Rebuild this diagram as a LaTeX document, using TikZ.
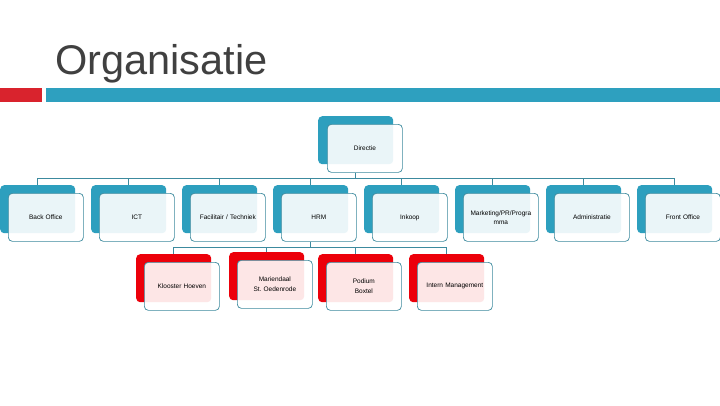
\documentclass[tikz,border=0pt]{standalone}
\usepackage{fontspec}
\setmainfont{Liberation Sans}
\definecolor{tblue}{RGB}{45,159,190}
\definecolor{tbar}{RGB}{46,160,191}
\definecolor{tredbar}{RGB}{217,35,45}
\definecolor{tred}{RGB}{236,0,10}
\definecolor{tline}{RGB}{60,138,158}
\definecolor{ttitle}{RGB}{64,64,64}
\begin{document}
\begin{tikzpicture}[x=1pt,y=-1pt,
  backbox/.style={rounded corners=4pt, minimum width=75pt, minimum height=48pt, inner sep=0pt, anchor=north west},
  bblue/.style={backbox, fill=tblue},
  bred/.style={backbox, fill=tred},
  frontbox/.style={rounded corners=4pt, minimum width=75pt, minimum height=48pt, inner sep=0pt, anchor=north west,
     fill=white, fill opacity=0.9, text opacity=1, draw=tline, line width=0.7pt,
     align=center, text width=72pt, font=\fontsize{6.5}{10.5}\selectfont},
  conn/.style={draw=tline, line width=0.8pt}]
\useasboundingbox (0,0) rectangle (720,405);
\fill[white] (0,0) rectangle (720,405);
% title and bars
\node[anchor=base west, inner sep=0pt, text=ttitle, font=\fontsize{41.5}{45}\selectfont] (title) at (55,74) {Organisatie};
\fill[tredbar] (0,88) rectangle (42,102);
\fill[tbar] (46,88) rectangle (720,102);
% Directie
\node[bblue] (dir) at (318,116) {};
\node[frontbox] (dirf) at (327,124) {Directie};
% level 2
\node[bblue] (bo) at (0,185) {};
\node[frontbox] (bof) at (8,193) {Back Office};
\node[bblue] (ict) at (91,185) {};
\node[frontbox] (ictf) at (99,193) {ICT};
\node[bblue] (fac) at (182,185) {};
\node[frontbox] (facf) at (190,193) {Facilitair / Techniek};
\node[bblue] (hrm) at (273,185) {};
\node[frontbox] (hrmf) at (281,193) {HRM};
\node[bblue] (ink) at (364,185) {};
\node[frontbox] (inkf) at (372,193) {Inkoop};
\node[bblue] (mkt) at (455,185) {};
\node[frontbox, font=\fontsize{6.5}{8.8}\selectfont] (mktf) at (463,193) {Marketing/PR/Progra\\mma};
\node[bblue] (adm) at (546,185) {};
\node[frontbox] (admf) at (554,193) {Administratie};
\node[bblue] (fo) at (637,185) {};
\node[frontbox] (fof) at (645,193) {Front Office};
% level 3
\node[bred] (kh) at (136,254) {};
\node[frontbox] (khf) at (144,262) {Klooster Hoeven};
\node[bred] (ms) at (229,252) {};
\node[frontbox] (msf) at (237,260) {Mariendaal\\St.\ Oedenrode};
\node[bred] (pb) at (318,254) {};
\node[frontbox] (pbf) at (326,262) {Podium\\Boxtel};
\node[bred] (im) at (409,254) {};
\node[frontbox] (imf) at (417,262) {Intern Management};
% connectors
\coordinate (bus1) at (0,178);
\coordinate (bus2) at (0,247);
\draw[conn] (dirf.south -| dir.south) -- (dir.south |- bus1);
\draw[conn] (bo.north |- bus1) -- (fo.north |- bus1);
\foreach \n in {bo,ict,fac,hrm,ink,mkt,adm,fo}
  \draw[conn] (\n.north |- bus1) -- (\n.north);
\draw[conn] (hrmf.south -| hrm.south) -- (hrm.south |- bus2);
\draw[conn] (kh.north |- bus2) -- (im.north |- bus2);
\foreach \n in {kh,ms,pb,im}
  \draw[conn] (\n.north |- bus2) -- (\n.north);
\end{tikzpicture}
\end{document}
